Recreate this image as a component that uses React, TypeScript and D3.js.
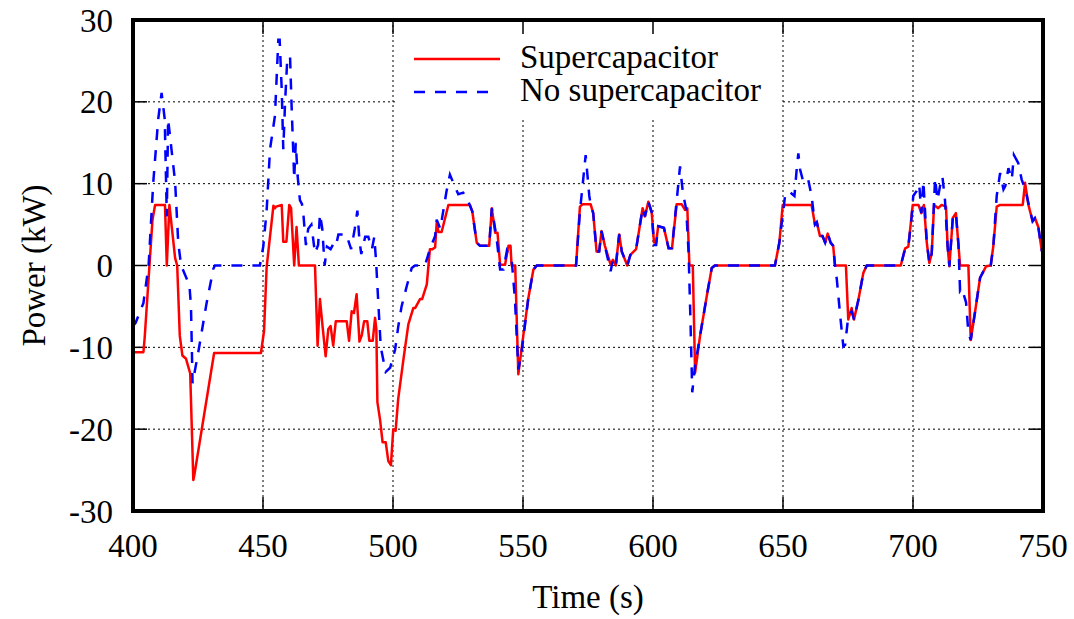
import { useRef, useEffect } from "react";
import * as d3 from "d3";

// [time (s), power (kW)]
const supercapSeries: [number, number][] = [
  [400, -10.6], [404, -10.6], [404.5, -8.8], [407.5, 5.6], [408.5, 7.4], [412.3, 7.4], [413, 0],
  [414, 7.4], [416.2, 0.9], [417, 0], [418, -8.6], [419, -11], [420.4, -11.4], [422, -13.2],
  [423.2, -26.2], [423.6, -25.6], [431.2, -10.7], [449.2, -10.7], [450.4, -8], [451.4, -0.2],
  [454, 7.3], [454.6, 7], [455, 7.2], [457.2, 7.4], [457.8, 2.9], [459, 2.9], [460.1, 7.4],
  [460.8, 7], [462, 0], [462.9, 4.7], [463.8, 0], [470, 0], [471, -9.8], [471.9, -4.1],
  [472.9, -7.4], [474.1, -11.1], [475.1, -7.8], [476, -7.4], [477, -9.8], [478, -6.8],
  [482.2, -6.8], [483.1, -9.2], [484.1, -5.6], [485, -5.8], [486, -3.5], [487.1, -9.3],
  [488, -8.5], [488.9, -6.8], [490.1, -6.8], [490.9, -9.2], [492.2, -9.2], [493.1, -6.4],
  [493.6, -7.8], [494, -16.7], [495, -18.8], [496, -21.6], [497.2, -21.6], [498.2, -23.9],
  [499.2, -24.4], [500.1, -20], [501, -20.2], [502, -16.3], [504, -11.5], [505.9, -7.2],
  [507.8, -5.2], [508.5, -5.2], [510.4, -4.1], [511.2, -4.1], [513, -2.3], [514.2, 2],
  [515.2, 2], [516.2, 2.2], [516.8, 5.2], [517.5, 4.1], [518.7, 4.1], [521.3, 7.4],
  [529.6, 7.4], [530.5, 6.6], [532.2, 2.8], [533.5, 2.4], [537, 2.4], [538, 7], [539.3, 4],
  [540.2, 4], [541.2, 0.1], [543.1, 0.1], [544.4, 2.4], [545.2, 2.4], [545.6, 0], [547, 0],
  [548.2, -13.3], [550.1, -8.6], [552, -4.1], [554, -0.5], [555.3, 0], [570.4, 0],
  [571.9, 7.2], [573, 7.5], [576, 7.5], [577, 6.4], [578.3, 1.7], [579.3, 1.7], [580.2, 4.2],
  [581.5, 2.4], [583.7, 0.1], [584.6, 0.7], [585.7, 0], [587, 3.8], [588, 1.7], [590.1, 0],
  [591.3, 1.3], [593.5, 2], [595, 5], [596, 7], [596.9, 6], [598.2, 7.8], [599.5, 6.5],
  [600.4, 2.8], [601.2, 2.8], [602, 4.8], [604.2, 4.6], [606, 2.1], [607.3, 2.1], [609.1, 7.5],
  [611, 7.5], [612.3, 6.8], [613.2, 7], [614, 0], [615.3, 0], [616.2, -13.1], [618.1, -8.6],
  [620.7, -3.7], [622.6, -0.3], [623.8, 0], [646.9, 0], [648.6, 2.8], [649.9, 7.4], [661, 7.4],
  [662.3, 5], [663, 5.3], [664.2, 3.6], [665.2, 3.6], [666.2, 2.8], [667.2, 3.9], [668.3, 2.8],
  [669.3, 2.4], [670, 0], [674.2, 0], [675.1, -6.6], [676.4, -5.2], [677.3, -6.6], [679, -4.2],
  [680.9, -0.9], [682.2, 0], [695.3, 0], [697, 2.1], [698.2, 2.3], [699.9, 7.4], [702.1, 7.4],
  [703.2, 6.4], [704.2, 7.4], [705.3, 2.8], [706.3, 0.3], [707.2, 1.5], [708.1, 7.4],
  [709.7, 7], [711, 7.4], [712.7, 7.2], [713.3, 2.4], [714, -0.1], [715.3, 5.8], [716.5, 6.4],
  [718.1, 0], [721.3, 0], [722.2, -9.1], [723.8, -5.8], [725.8, -1.5], [728.1, -0.1],
  [729.9, 0], [730.9, 2.4], [732.2, 7.2], [733.5, 7.4], [742.2, 7.4], [743.1, 10.1],
  [744.4, 7.4], [746, 5.4], [746.9, 5.8], [748.2, 4.7], [749.5, 1.9], [750, 1.3],
];

const noSupercapSeries: [number, number][] = [
  [400, -7.4], [401, -7], [404, -4.6], [406, 0], [407.8, 10.2], [409.7, 17.9], [411, 21.1],
  [412.2, 17.9], [413, 6], [413.5, 17.9], [414.8, 14.2], [416.2, 10.2], [417.4, 2.8],
  [418.5, 0], [421.7, -2.4], [422.3, -5], [422.9, -14.4], [425.1, -10.6], [428.3, -4.6],
  [430.9, -0.4], [431.5, 0], [448.8, 0], [450.1, 2.3], [451.4, 6.7], [452.7, 14.2],
  [454.6, 18.3], [455.9, 27.6], [456.4, 27.6], [457.2, 21.5], [457.8, 14.2], [458.5, 20],
  [459.3, 25], [460.4, 25.6], [461, 19.5], [461.6, 14.2], [462, 10.6], [462.6, 15], [463.3, 11],
  [464.2, 8], [465, 7.5], [465.6, 6], [466.5, 2.5], [467.4, 4.5], [468.6, 5], [470, 1.5],
  [471.2, 2.5], [471.9, 6.3], [472.8, 4.5], [473.7, 0], [474.6, 2.3], [476, 2], [477, 2.6],
  [478, 2.3], [479, 3.8], [482, 3.8], [483.9, 2], [485.3, 4.5], [486.3, 6.7], [487.1, 3],
  [487.8, 1.4], [489.3, 3.5], [490.5, 3.5], [491.9, 2], [492.8, 3.5], [493.5, 0.5], [494, -2.5],
  [494.6, -6], [495.3, -10], [497.2, -13], [498.9, -12.5], [500.8, -10.3], [502, -7.5],
  [503.3, -5], [505.3, -2.5], [507.2, -0.3], [508.5, 0], [512.3, 0], [514.2, 2], [516.2, 3.6],
  [516.8, 5.6], [518.2, 4.5], [520.6, 9.1], [521.9, 11.1], [523.2, 10.1], [525.1, 8.7],
  [527, 8.9], [529, 7.8], [530.5, 6.6], [532.2, 2.8], [533.5, 2.4], [537, 2.4], [538, 7],
  [539.8, 3.5], [541.2, -0.5], [542.5, -0.5], [543.8, 1.8], [545.7, 0.5], [546.9, -4.1],
  [548.2, -12.7], [549.5, -10.5], [552, -4.1], [554, -0.5], [555.3, 0], [570.4, 0],
  [571.9, 6.6], [574.1, 13.5], [575.5, 8.5], [576, 7.5], [577, 6.4], [578.3, 1.7], [579.3, 1.7],
  [580.2, 4.2], [581.5, 2.4], [583.7, -0.7], [584.6, 0.7], [585.7, 0], [587, 3.8], [588, 1.7],
  [590.1, 0], [591.3, 1.3], [593.5, 2], [595, 5], [596, 7], [596.9, 6], [598.2, 7.8],
  [599.5, 6.5], [600.4, 2.5], [601.2, 2.5], [602, 4.8], [604.2, 4.6], [606, 2.1], [607.3, 2.1],
  [610.4, 12.1], [611.5, 8.9], [612.8, 6.8], [613.7, 1.5], [614.4, -6.6], [615.1, -15.5],
  [616.2, -12.2], [618.1, -8.6], [620.7, -3.7], [622.6, -0.3], [623.8, 0], [646.9, 0],
  [648.6, 2.8], [650.8, 8.5], [652.1, 9.1], [654.4, 8.5], [655.3, 11.9], [655.9, 13.7],
  [656.6, 11.7], [657.9, 10.1], [659.7, 10.5], [661, 8.5], [662.3, 5], [663, 5.3], [664.2, 3.6],
  [665.2, 3.6], [666.2, 2.8], [667.2, 3.9], [668.3, 2.8], [669.3, 2.4], [670, 0], [670.7, -1.7],
  [671.9, -5.8], [673.2, -9.9], [673.9, -9.7], [675.1, -6.2], [676.4, -5.6], [677.3, -6.6],
  [679, -4.2], [680.9, -0.9], [682.2, 0], [695.3, 0], [697, 2.1], [698.2, 2.3], [699.5, 6],
  [700.1, 8.5], [701.4, 9.1], [702.4, 9.9], [703.2, 6.4], [704, 10.3], [705.3, 2.8],
  [706.3, 0.3], [707.2, 1.5], [708.5, 10.7], [709.4, 8], [710.4, 9.7], [711.3, 10.9],
  [712.3, 8], [713.3, 2.4], [714, -0.1], [715.3, 5.8], [716.5, 6.4], [717.5, 2.5], [718.1, -3.1],
  [718.8, -2.8], [720.4, -4.5], [721.3, -8.2], [722.2, -9.1], [723.8, -5.8], [725.8, -1.5],
  [728.1, -0.1], [729.9, 0], [730.9, 2.4], [732.2, 8.5], [733.5, 11.3], [734.8, 9.3],
  [735.5, 9.7], [736.7, 11.9], [738, 10.5], [738.8, 13.5], [740.5, 12.5], [741.8, 10.5],
  [743.1, 9.4], [744.4, 7.6], [746, 5.4], [746.9, 5.8], [748.2, 4.7], [749.5, 1.9], [750, 1.3],
];

const xTicks = [400, 450, 500, 550, 600, 650, 700, 750];
const yTicks = [-30, -20, -10, 0, 10, 20, 30];
const legendLabels = ["Supercapacitor", "No supercapacitor"];

const App = () => {
  const svgRef = useRef<SVGSVGElement>(null);

  useEffect(() => {
    const svg = d3.select(svgRef.current);
    svg.selectAll("*").remove();

    const width = 1074;
    const height = 619;
    const margin = { top: 20, right: 31, bottom: 108, left: 133 };
    const innerWidth = width - margin.left - margin.right;
    const innerHeight = height - margin.top - margin.bottom;
    const font = "'Liberation Serif', 'Times New Roman', serif";
    const fontSize = 33;

    const chart = svg
      .append("g")
      .attr("transform", `translate(${margin.left}, ${margin.top})`);

    const xScale = d3.scaleLinear().domain([400, 750]).range([0, innerWidth]);
    const yScale = d3.scaleLinear().domain([-30, 30]).range([innerHeight, 0]);

    // dotted grid (skip the border ticks)
    chart
      .selectAll(".vgrid")
      .data(xTicks.slice(1, -1))
      .join("line")
      .attr("x1", (d) => xScale(d))
      .attr("x2", (d) => xScale(d))
      .attr("y1", 0)
      .attr("y2", innerHeight)
      .attr("stroke", "#000")
      .attr("stroke-width", 1)
      .attr("stroke-dasharray", "2,3");

    chart
      .selectAll(".hgrid")
      .data(yTicks.slice(1, -1))
      .join("line")
      .attr("x1", 0)
      .attr("x2", innerWidth)
      .attr("y1", (d) => yScale(d))
      .attr("y2", (d) => yScale(d))
      .attr("stroke", "#000")
      .attr("stroke-width", 1)
      .attr("stroke-dasharray", "2,3");

    // key box hides the grid behind it
    chart
      .append("rect")
      .attr("x", xScale(500.8))
      .attr("y", 2)
      .attr("width", xScale(649.5) - xScale(500.8))
      .attr("height", 95)
      .attr("fill", "#fff");

    // inner tick marks on all four sides
    const tickLen = 14;
    xTicks.forEach((t) => {
      chart.append("line").attr("x1", xScale(t)).attr("x2", xScale(t))
        .attr("y1", innerHeight).attr("y2", innerHeight - tickLen)
        .attr("stroke", "#000").attr("stroke-width", 1.5);
      chart.append("line").attr("x1", xScale(t)).attr("x2", xScale(t))
        .attr("y1", 0).attr("y2", tickLen)
        .attr("stroke", "#000").attr("stroke-width", 1.5);
    });
    yTicks.forEach((v) => {
      chart.append("line").attr("x1", 0).attr("x2", tickLen)
        .attr("y1", yScale(v)).attr("y2", yScale(v))
        .attr("stroke", "#000").attr("stroke-width", 1.5);
      chart.append("line").attr("x1", innerWidth).attr("x2", innerWidth - tickLen)
        .attr("y1", yScale(v)).attr("y2", yScale(v))
        .attr("stroke", "#000").attr("stroke-width", 1.5);
    });

    const line = d3
      .line<[number, number]>()
      .x((d) => xScale(d[0]))
      .y((d) => yScale(d[1]));

    chart
      .append("path")
      .datum(supercapSeries)
      .attr("d", line)
      .attr("fill", "none")
      .attr("stroke", "#ff0000")
      .attr("stroke-width", 2.5)
      .attr("stroke-linejoin", "round");

    chart
      .append("path")
      .datum(noSupercapSeries)
      .attr("d", line)
      .attr("fill", "none")
      .attr("stroke", "#0000ff")
      .attr("stroke-width", 2.5)
      .attr("stroke-dasharray", "11,10");

    // frame
    chart
      .append("rect")
      .attr("width", innerWidth)
      .attr("height", innerHeight)
      .attr("fill", "none")
      .attr("stroke", "#000")
      .attr("stroke-width", 4);

    // tick labels
    chart
      .selectAll(".xlabel")
      .data(xTicks)
      .join("text")
      .attr("x", (d) => xScale(d))
      .attr("y", innerHeight + 46)
      .attr("text-anchor", "middle")
      .attr("font-family", font)
      .attr("font-size", fontSize)
      .text((d) => d);

    chart
      .selectAll(".ylabel")
      .data(yTicks)
      .join("text")
      .attr("x", -20)
      .attr("y", (d) => yScale(d))
      .attr("dy", "0.35em")
      .attr("text-anchor", "end")
      .attr("font-family", font)
      .attr("font-size", fontSize)
      .text((d) => d);

    // axis titles
    chart
      .append("text")
      .attr("x", innerWidth / 2)
      .attr("y", innerHeight + 97)
      .attr("text-anchor", "middle")
      .attr("font-family", font)
      .attr("font-size", fontSize)
      .text("Time (s)");

    chart
      .append("text")
      .attr("transform", `translate(${45 - margin.left}, ${innerHeight / 2}) rotate(-90)`)
      .attr("text-anchor", "middle")
      .attr("font-family", font)
      .attr("font-size", fontSize)
      .text("Power (kW)");

    // legend
    const legend = chart.append("g").attr("transform", `translate(${414 - margin.left}, ${59 - margin.top})`);
    legendLabels.forEach((label, i) => {
      legend
        .append("line")
        .attr("x1", 0)
        .attr("x2", i === 0 ? 86 : 76)
        .attr("y1", i * 33)
        .attr("y2", i * 33)
        .attr("stroke", i === 0 ? "#ff0000" : "#0000ff")
        .attr("stroke-width", 2.5)
        .attr("stroke-dasharray", i === 0 ? null : "11,10");
      legend
        .append("text")
        .attr("x", 106)
        .attr("y", i * 33 + 9)
        .attr("font-family", font)
        .attr("font-size", fontSize)
        .text(label);
    });
  }, []);

  return (
    <svg
      ref={svgRef}
      width={1074}
      height={619}
      style={{ position: "absolute", left: 0, top: 0, background: "#fff" }}
    ></svg>
  );
};

export default App;
